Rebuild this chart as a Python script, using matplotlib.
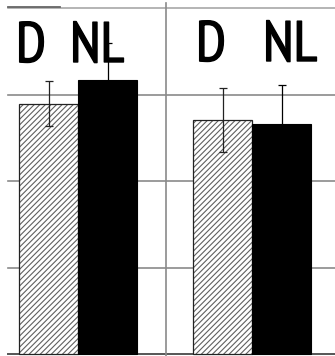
import matplotlib
matplotlib.use("Agg")
import matplotlib.pyplot as plt
import matplotlib.patheffects as pe
import numpy as np

# Data
groups = [0, 1]
labels_d = ["D", "D"]
labels_nl = ["NL", "NL"]
d_values = [2.90, 2.71]
d_errors = [0.26, 0.375]
nl_values = [3.175, 2.665]
nl_errors = [0.43, 0.45]
grid_values = [1, 2, 3]

fam = ["PT Sans Narrow", "Liberation Sans", "DejaVu Sans"]
plt.rcParams['hatch.linewidth'] = 0.8

W, H = 335, 356
fig = plt.figure(figsize=(W / 100, H / 100), dpi=100)
ax = fig.add_axes([0, 0, 1, 1])
ax.set_axis_off()

# pixel mappings: xpix = 78 + 174*x ; ypix = 354 - 86.3*v
ax.set_xlim(-78 / 174, (W - 78) / 174)
ax.set_ylim((354 - H) / 86.3, 354 / 86.3)

def px2x(p):
    return (p - 78) / 174

bw = 59 / 174
x = np.array(groups, dtype=float)

# grid lines
xmin_frac = 8 / W
for g in grid_values:
    ax.axhline(g, xmin=xmin_frac, xmax=1, color="#8a8a8a", lw=1.2, zorder=1)
ax.axhline(0, xmin=xmin_frac, xmax=1, color="#555555", lw=1.4, zorder=1)
ax.axhline((354 - 8) / 86.3, xmin=xmin_frac, xmax=1, color="#a0a0a0", lw=1.1, zorder=1)
ax.plot([px2x(8), px2x(60)], [(354 - 7) / 86.3] * 2, color="#666666", lw=1.3, zorder=1)
ax.axvline(px2x(165.5), ymin=0, ymax=1 - 3 / H, color="#8a8a8a", lw=1.2, zorder=1)

# D bars (hatched)
ax.bar(x - bw / 2, d_values, width=bw, color="white", edgecolor="#606060",
       hatch="//////", linewidth=0, zorder=2)
ax.bar(x - bw / 2, d_values, width=bw, color="none", edgecolor="#222222",
       linewidth=0.9, zorder=3)
# NL bars (black)
ax.bar(x + bw / 2, nl_values, width=bw, color="black", edgecolor="black",
       linewidth=0.8, zorder=3)

ax.errorbar(x - bw / 2, d_values, yerr=d_errors, fmt="none", ecolor="#222222",
            elinewidth=0.9, capsize=3.2, capthick=0.9, zorder=4)
ax.errorbar(x + bw / 2, nl_values, yerr=nl_errors, fmt="none", ecolor="black",
            elinewidth=0.9, capsize=3.2, capthick=0.9, zorder=4)

# Labels
fs = 41
effects = [pe.withStroke(linewidth=1.0, foreground="black")]
pos_d = [(16, 62), (196, 61)]
pos_nl = [(70, 62), (263, 61)]
for (px, py), t in zip(pos_d, labels_d):
    fig.text(px / W, 1 - py / H, t, fontsize=fs, family=fam, ha="left",
             va="baseline", path_effects=effects)
for (px, py), t in zip(pos_nl, labels_nl):
    fig.text(px / W, 1 - py / H, t, fontsize=fs, family=fam, ha="left",
             va="baseline", path_effects=effects)

fig.savefig("out.png", dpi=100)
